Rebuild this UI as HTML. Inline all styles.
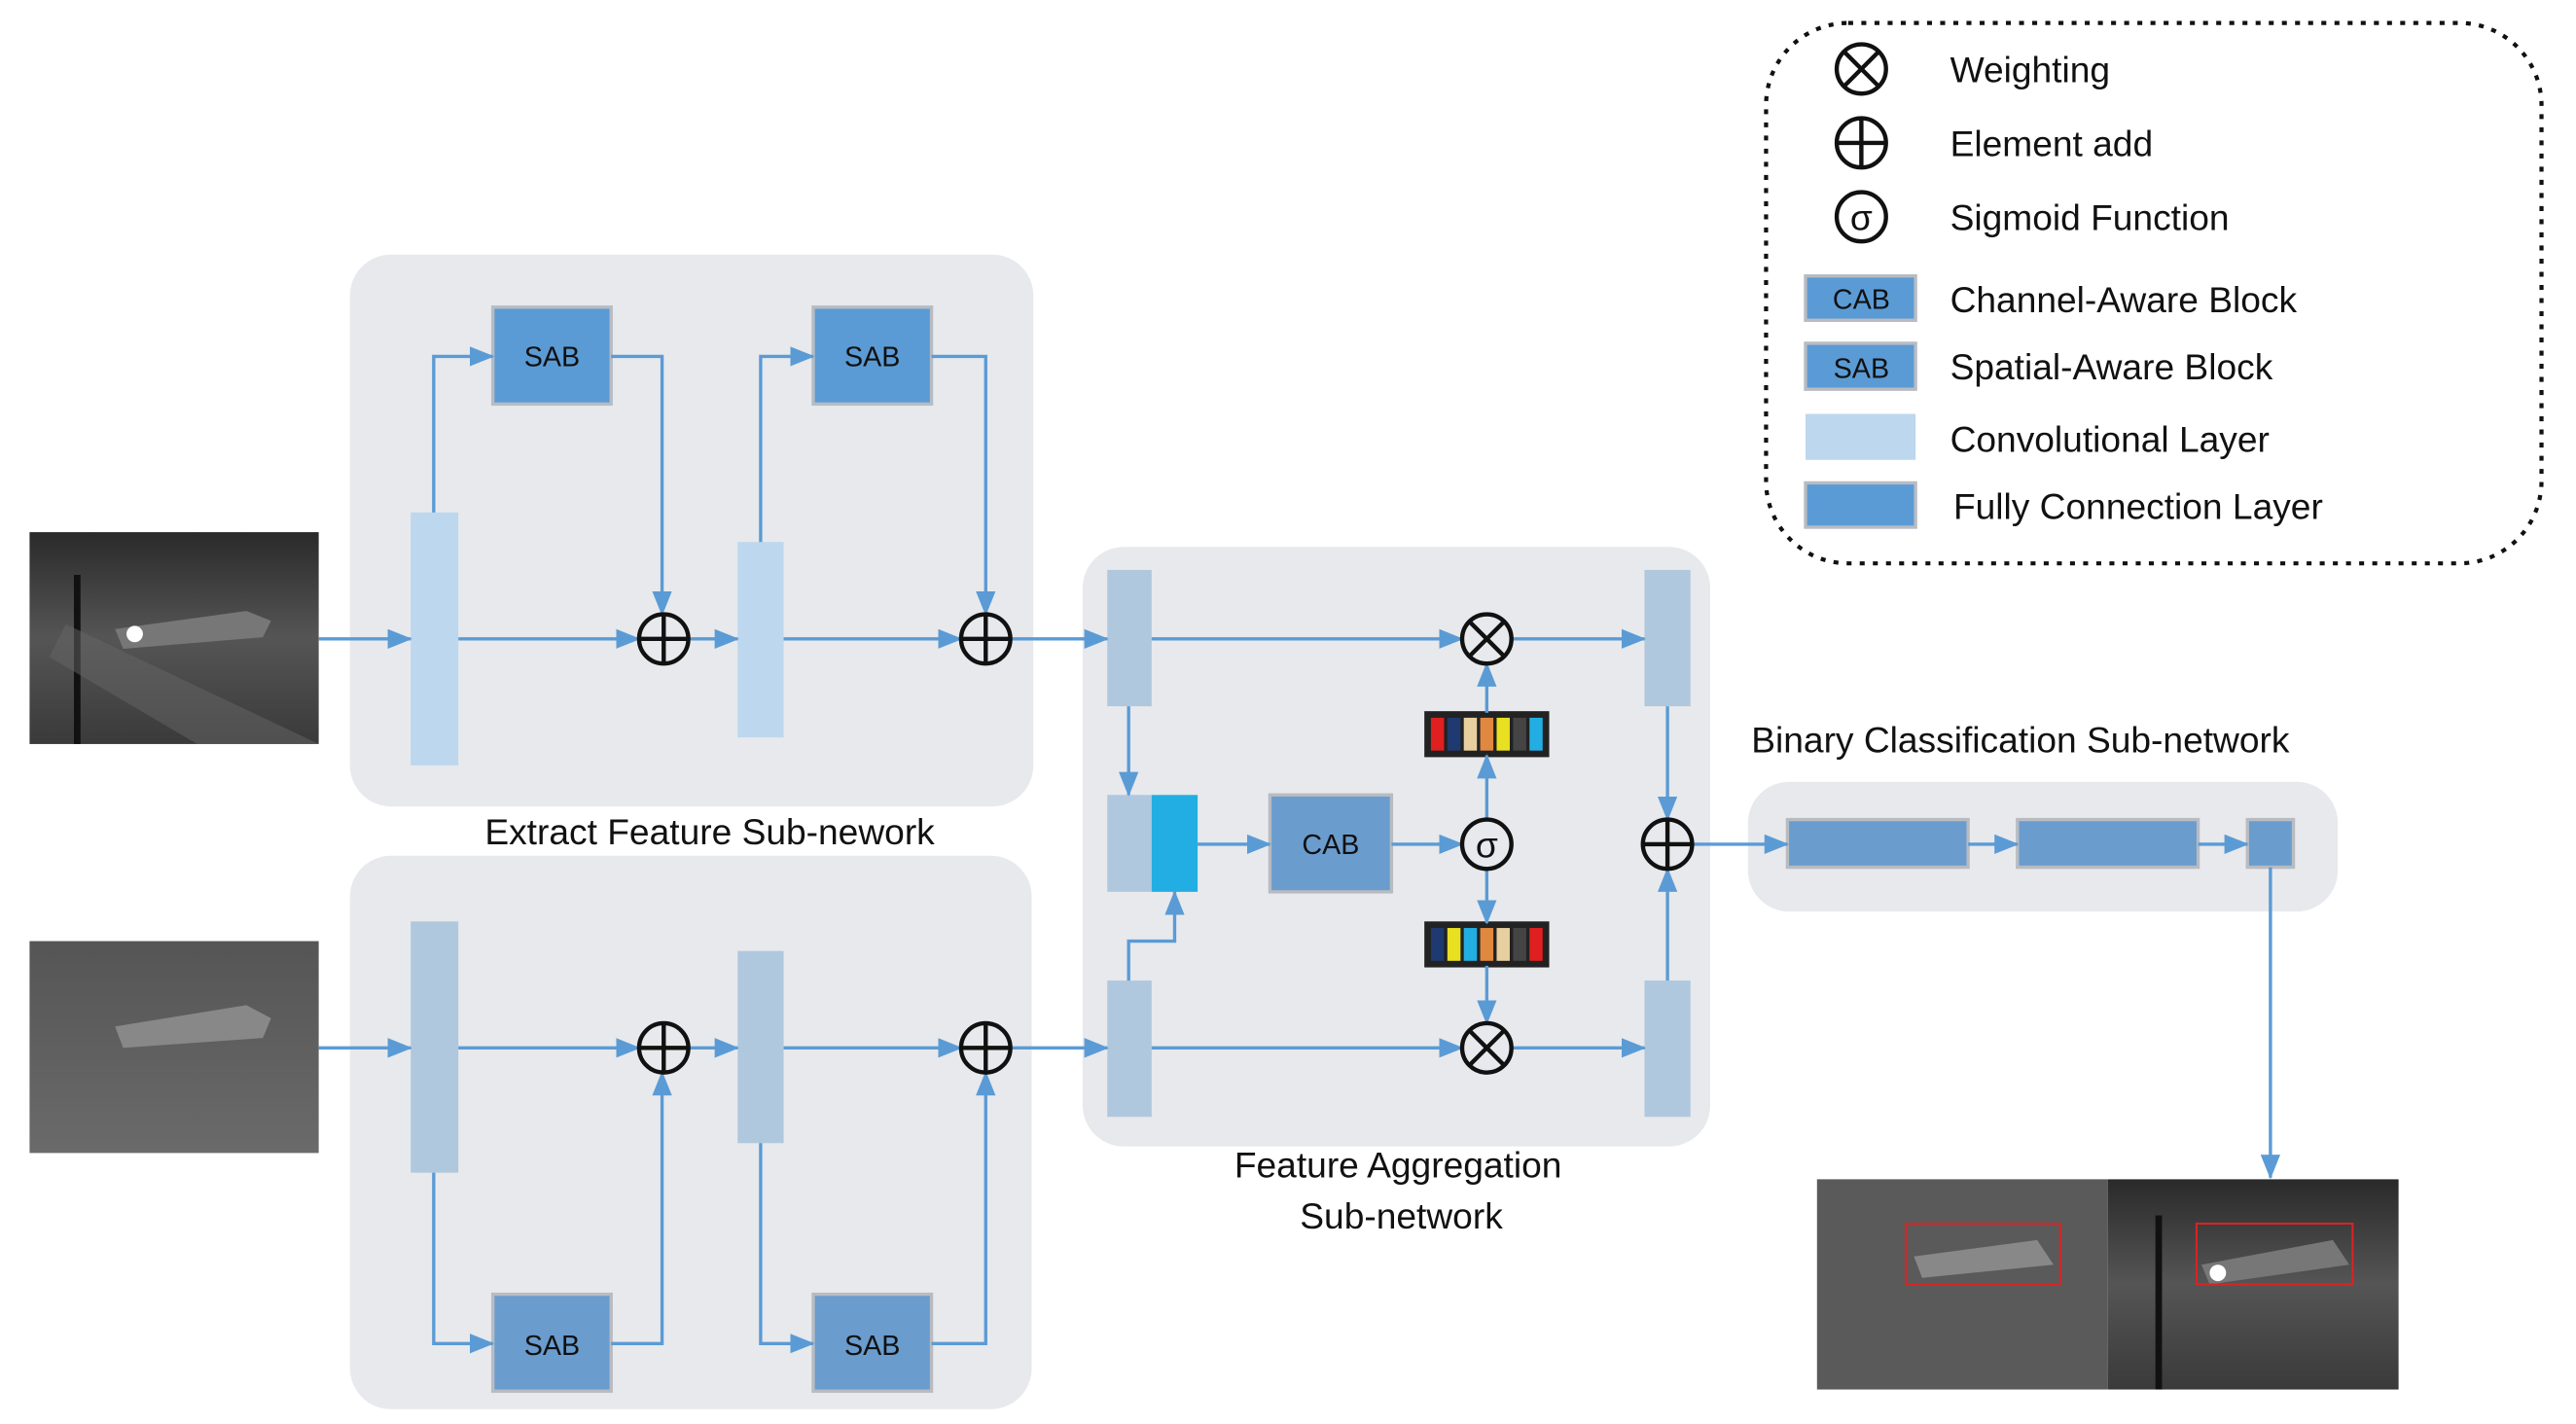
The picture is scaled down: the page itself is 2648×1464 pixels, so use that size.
<!DOCTYPE html>
<html><head><meta charset="utf-8"><style>
html,body{margin:0;padding:0;background:#fff;}
svg{display:block;}
text{font-family:"Liberation Sans",sans-serif;fill:#111;}
</style></head><body>
<svg width="2648" height="1464" viewBox="0 0 1568 867" preserveAspectRatio="none" xmlns="http://www.w3.org/2000/svg">
<defs>
<marker id="a" markerWidth="16" markerHeight="14" refX="14" refY="6" orient="auto" markerUnits="userSpaceOnUse"><path d="M0,0 L15,6 L0,12 z" fill="#5b9bd5"/></marker>
<linearGradient id="im1" x1="0" y1="0" x2="0" y2="1"><stop offset="0" stop-color="#2a2a2a"/><stop offset="0.5" stop-color="#555"/><stop offset="1" stop-color="#3a3a3a"/></linearGradient>
<linearGradient id="im2" x1="0" y1="0" x2="0" y2="1"><stop offset="0" stop-color="#555"/><stop offset="1" stop-color="#6a6a6a"/></linearGradient>
</defs>
<!-- panels -->
<rect x="213" y="155" width="416" height="336" rx="25" fill="#e7e9ec"/>
<rect x="213" y="521" width="415" height="337" rx="25" fill="#e7e9ec"/>
<rect x="659" y="333" width="382" height="365" rx="25" fill="#e7e9ec"/>
<rect x="1064" y="476" width="359" height="79" rx="25" fill="#e7e9ec"/>
<text x="432" y="514" font-size="22" text-anchor="middle">Extract Feature Sub-nework</text>
<text x="851" y="717" font-size="22" text-anchor="middle">Feature Aggregation</text>
<text x="853" y="748" font-size="22" text-anchor="middle">Sub-network</text>
<text x="1066" y="458" font-size="22">Binary Classification Sub-network</text>

<!-- images -->
<rect x="18" y="324" width="176" height="129" fill="url(#im1)"/>
<path d="M70,383 L150,372 L165,378 L160,388 L75,395z" fill="#777"/>
<circle cx="82" cy="386" r="5" fill="#fff"/>
<rect x="45" y="350" width="4" height="103" fill="#111"/>
<path d="M40,380 L194,453 L120,453 L30,400z" fill="#666" opacity="0.5"/>
<rect x="18" y="573" width="176" height="129" fill="url(#im2)"/>
<path d="M70,625 L150,612 L165,620 L160,632 L75,638z" fill="#888"/>
<rect x="1106" y="718" width="177" height="128" fill="#5a5a5a"/>
<path d="M1165,765 L1240,755 L1250,770 L1170,778z" fill="#888"/>
<rect x="1160" y="745" width="94" height="37" fill="none" stroke="#d22" stroke-width="1.2"/>
<rect x="1283" y="718" width="177" height="128" fill="url(#im1)"/>
<path d="M1340,770 L1420,755 L1430,770 L1345,782z" fill="#777"/>
<circle cx="1350" cy="775" r="5" fill="#fff"/>
<rect x="1312" y="740" width="4" height="106" fill="#111"/>
<rect x="1337" y="745" width="95" height="37" fill="none" stroke="#d22" stroke-width="1.2"/>

<!-- blocks -->
<g fill="#bdd7ee">
<rect x="250" y="312" width="29" height="154"/>
<rect x="449" y="330" width="28" height="119"/>
</g>
<g fill="#b0c8de">
<rect x="250" y="561" width="29" height="153"/>
<rect x="449" y="579" width="28" height="117"/>
<rect x="674" y="347" width="27" height="83"/>
<rect x="674" y="597" width="27" height="83"/>
<rect x="674" y="484" width="27" height="59"/>
<rect x="1001" y="347" width="28" height="83"/>
<rect x="1001" y="597" width="28" height="83"/>
</g>
<rect x="701" y="484" width="28" height="59" fill="#22aee3"/>
<g fill="#5b9bd5" stroke="#b8bcc2" stroke-width="2">
<rect x="300" y="187" width="72" height="59"/>
<rect x="495" y="187" width="72" height="59"/>
</g>
<g fill="#6a9cce" stroke="#b8bcc2" stroke-width="2">
<rect x="300" y="788" width="72" height="59"/>
<rect x="495" y="788" width="72" height="59"/>
<rect x="773" y="484" width="74" height="59"/>
<rect x="1088" y="499" width="110" height="29"/>
<rect x="1228" y="499" width="110" height="29"/>
<rect x="1368" y="499" width="28" height="29"/>
</g>
<g font-size="17" text-anchor="middle">
<text x="336" y="223">SAB</text><text x="531" y="223">SAB</text>
<text x="336" y="825">SAB</text><text x="531" y="825">SAB</text>
<text x="810" y="520">CAB</text>
</g>

<!-- color bars -->
<g stroke="#222" stroke-width="2"><rect x="868" y="434" width="74" height="26" fill="#222"/><rect x="868" y="562" width="74" height="26" fill="#222"/></g>
<g>
<rect x="871" y="437" width="8" height="20" fill="#e02020"/><rect x="881" y="437" width="8" height="20" fill="#1f3a70"/><rect x="891" y="437" width="8" height="20" fill="#e8cfa0"/><rect x="901" y="437" width="8" height="20" fill="#e08840"/><rect x="911" y="437" width="8" height="20" fill="#e8e020"/><rect x="921" y="437" width="8" height="20" fill="#444"/><rect x="931" y="437" width="8" height="20" fill="#22aee3"/>
<rect x="871" y="565" width="8" height="20" fill="#1f3a70"/><rect x="881" y="565" width="8" height="20" fill="#e8e020"/><rect x="891" y="565" width="8" height="20" fill="#22aee3"/><rect x="901" y="565" width="8" height="20" fill="#e08840"/><rect x="911" y="565" width="8" height="20" fill="#e8cfa0"/><rect x="921" y="565" width="8" height="20" fill="#444"/><rect x="931" y="565" width="8" height="20" fill="#e02020"/>
</g>

<!-- connectors -->
<g stroke="#5b9bd5" stroke-width="2" fill="none" marker-end="url(#a)">
<path d="M194,389 H250"/><path d="M279,389 H389"/><path d="M419,389 H449"/><path d="M477,389 H585"/><path d="M615,389 H674"/>
<path d="M264,312 V217 H300"/><path d="M372,217 H403 V374"/>
<path d="M463,330 V217 H495"/><path d="M567,217 H600 V374"/>
<path d="M194,638 H250"/><path d="M279,638 H389"/><path d="M419,638 H449"/><path d="M477,638 H585"/><path d="M615,638 H674"/>
<path d="M264,714 V818 H300"/><path d="M372,818 H403 V653"/>
<path d="M463,696 V818 H495"/><path d="M567,818 H600 V653"/>
<path d="M687,430 V484"/><path d="M687,597 V573 H715 V543"/>
<path d="M729,514 H773"/><path d="M847,514 H890"/>
<path d="M701,389 H890"/><path d="M920,389 H1001"/>
<path d="M701,638 H890"/><path d="M920,638 H1001"/>
<path d="M905,499 V460"/><path d="M905,434 V404"/>
<path d="M905,529 V562"/><path d="M905,588 V623"/>
<path d="M1015,430 V499"/><path d="M1015,597 V529"/>
<path d="M1030,514 H1088"/><path d="M1198,514 H1228"/><path d="M1338,514 H1368"/>
<path d="M1382,528 V717"/>
</g>

<!-- operators -->
<g stroke="#111" stroke-width="2.6" fill="none">
<circle cx="404" cy="389" r="15"/><path d="M389,389 H419 M404,374 V404"/>
<circle cx="600" cy="389" r="15"/><path d="M585,389 H615 M600,374 V404"/>
<circle cx="404" cy="638" r="15"/><path d="M389,638 H419 M404,623 V653"/>
<circle cx="600" cy="638" r="15"/><path d="M585,638 H615 M600,623 V653"/>
<circle cx="1015" cy="514" r="15"/><path d="M1000,514 H1030 M1015,499 V529"/>
<circle cx="905" cy="389" r="15"/><path d="M894,378 L916,400 M916,378 L894,400"/>
<circle cx="905" cy="638" r="15"/><path d="M894,627 L916,649 M916,627 L894,649"/>
<circle cx="905" cy="514" r="15"/>
<circle cx="1133" cy="42" r="15"/><path d="M1122,31 L1144,53 M1144,31 L1122,53"/>
<circle cx="1133" cy="87" r="15"/><path d="M1118,87 H1148 M1133,72 V102"/>
<circle cx="1133" cy="132" r="15"/>
</g>
<text x="905" y="522" font-size="22" text-anchor="middle">σ</text>
<text x="1133" y="140" font-size="22" text-anchor="middle">σ</text>

<!-- legend -->
<rect x="1075" y="14" width="472" height="329" rx="50" fill="none" stroke="#111" stroke-width="2.5" stroke-dasharray="3,5"/>
<rect x="1099" y="168" width="67" height="27" fill="#5b9bd5" stroke="#b8bcc2" stroke-width="2"/>
<rect x="1099" y="209" width="67" height="28" fill="#5b9bd5" stroke="#b8bcc2" stroke-width="2"/>
<rect x="1099" y="252" width="67" height="28" fill="#bdd7ee"/>
<rect x="1099" y="294" width="67" height="27" fill="#5b9bd5" stroke="#b8bcc2" stroke-width="2"/>
<g font-size="17" text-anchor="middle"><text x="1133" y="188">CAB</text><text x="1133" y="230">SAB</text></g>
<g font-size="22">
<text x="1187" y="50">Weighting</text>
<text x="1187" y="95">Element add</text>
<text x="1187" y="140">Sigmoid Function</text>
<text x="1187" y="190">Channel-Aware Block</text>
<text x="1187" y="231">Spatial-Aware Block</text>
<text x="1187" y="275">Convolutional Layer</text>
<text x="1189" y="316">Fully Connection Layer</text>
</g>
</svg>
</body></html>
